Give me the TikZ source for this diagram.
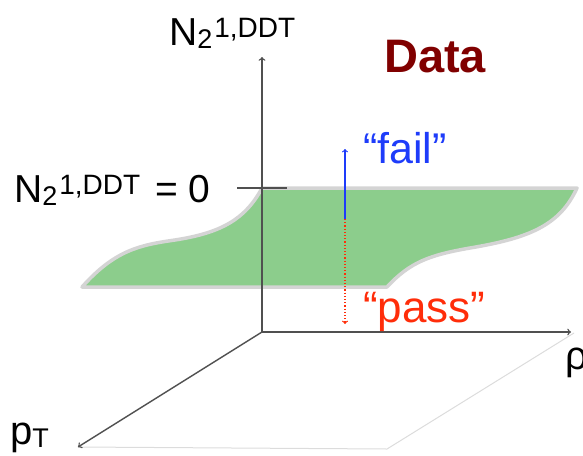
\documentclass[tikz,border=0pt]{standalone}
\usepackage{fontspec}
\setmainfont{Liberation Sans}
\usepackage{xcolor}
\usepackage{tikz}
\usetikzlibrary{arrows,positioning}

\definecolor{surfgreen}{RGB}{140,205,140}
\definecolor{surfedge}{RGB}{212,212,212}
\definecolor{axisgray}{RGB}{80,80,80}
\definecolor{planegray}{RGB}{220,220,220}
\definecolor{failblue}{RGB}{30,60,250}
\definecolor{passred}{RGB}{255,45,10}
\definecolor{datared}{RGB}{128,0,0}

\newcommand{\fsz}[1]{\fontsize{#1}{#1}\selectfont}
\newcommand{\Nddt}{\fsz{39}N\raisebox{-3pt}{\fsz{27}2}\hspace{2pt}\raisebox{8pt}{\fsz{28}1,DDT}}

\begin{document}
\begin{tikzpicture}[x=1pt, y=-1pt,
        lbl/.style ={inner sep=0pt, anchor=base west},
        axis/.style={->, draw=axisgray, line width=1.4pt},
        plane/.style={draw=planegray, line width=1pt},
        surf/.style={fill=surfgreen, draw=surfedge, line width=3.5pt, line join=round},
        probe/.style={->, line width=1.2pt},
    ]
        \useasboundingbox (0,0) rectangle (583,455);

        % Points of the frame
        \coordinate (O)      at (262,332);
        \coordinate (ntip)   at (262,57);
        \coordinate (rhotip) at (571,332);
        \coordinate (pttip)  at (78,447);
        \coordinate (pfar)   at (387,449);
        \coordinate (rfar)   at (574,333);
        \coordinate (tickl)  at (237,188);
        \coordinate (tickr)  at (287,188);

        % Ground plane
        \draw[plane] (pttip) -- (pfar) -- (rfar);

        % Cut surface N2 = 0
        \draw[surf] (262,188) -- (577,188)
            .. controls (560,225) and (530,238) .. (470,248)
            .. controls (430,255) and (410,262) .. (387,287)
            -- (82,287)
            .. controls (115,250) and (140,245) .. (175,240)
            .. controls (220,233) and (245,220) .. (262,188) -- cycle;

        % Axes
        \draw[axis] (O) -- (ntip);
        \draw[axis] (O) -- (rhotip);
        \draw[axis] (O) -- (pttip);
        \draw[draw=axisgray, line width=1.4pt] (tickl) -- (tickr);

        % Fail / pass probes
        \coordinate (probe)    at (345,219);
        \coordinate (failtip)  at (345,149);
        \coordinate (passtip)  at (345,324);
        \draw[probe, failblue] (probe) -- (failtip);
        \draw[probe, passred, dotted] (probe) -- (passtip);

        % Labels
        \node[lbl] (nlabel)   at (169,45)  {\Nddt};
        \node[lbl] (cutlabel) at (14,202)  {\Nddt\hspace{15pt}= 0};
        \node[lbl, text=datared, font=\bfseries] (data) at (384,72) {\fsz{47}Data};
        \node[lbl, text=failblue] (fail) at (363,163) {\fsz{43}“fail”};
        \node[lbl, text=passred]  (pass) at (363,322) {\fsz{44}“pass”};
        \node[lbl] (rho) at (565,369) {\fsz{40}ρ};
        \node[lbl] (pt)  at (10,444) {\fsz{40}p\raisebox{-3pt}{\fsz{27}T}};
    \end{tikzpicture}
\end{document}
